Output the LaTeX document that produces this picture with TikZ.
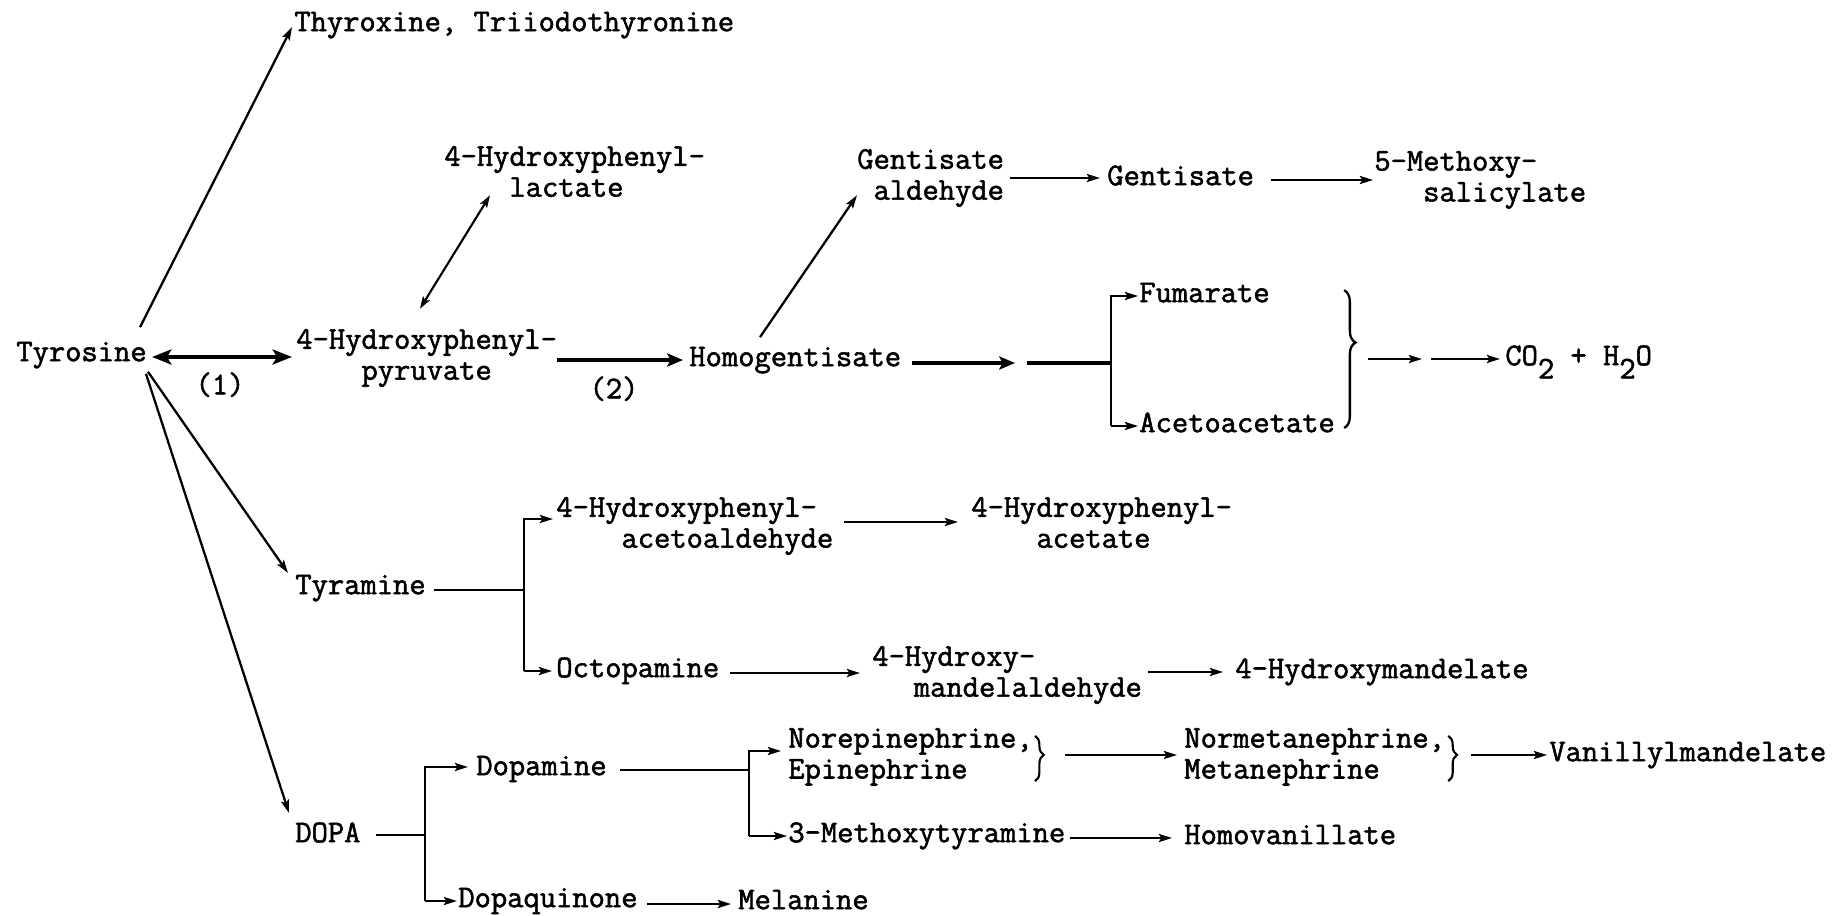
\documentclass[tikz,border=0pt]{standalone}
\usepackage{fontspec}
\setmainfont{Latin Modern Mono}[FakeBold=1.7]
\usetikzlibrary{calc,arrows.meta,decorations.pathreplacing}

\newcommand{\chemfont}{\fontsize{18}{17.6}\selectfont}
\newcommand{\low}[1]{\raisebox{-0.42em}{#1}}

\begin{document}
\begin{tikzpicture}[x=0.02cm,y=-0.02cm,
    every node/.style={inner sep=0pt,font=\chemfont,execute at begin node=\strut},
    cpd/.style={anchor=west,align=left},
    link/.style={line width=1.3pt},
    rxn/.style={line width=1.3pt,-{Stealth[length=7.5pt,width=4.6pt,inset=1.5pt]}},
    both/.style={line width=1.2pt,{Stealth[length=7pt,width=4.6pt,inset=1.5pt]}-{Stealth[length=7pt,width=4.6pt,inset=1.5pt]}},
    biglink/.style={line width=2.5pt},
    bigrxn/.style={line width=2.5pt,-{Stealth[length=9pt,width=7.5pt,inset=2pt]}},
    bigboth/.style={line width=2.5pt,{Stealth[length=11pt,width=8.5pt,inset=2.5pt]}-{Stealth[length=11pt,width=8.5pt,inset=2.5pt]}},
    brc/.style={decorate,decoration={brace,amplitude=6.5pt,aspect=0.38},line width=1.3pt},
    smallbrc/.style={decorate,decoration={brace,amplitude=5pt,aspect=0.42},line width=1.2pt}]
    \path[use as bounding box,fill=white] (0,0) rectangle (1833,916);

    % compounds
    \node[cpd] (tyr) at (16,355) {Tyrosine};
    \node[cpd] (thy) at (294,25) {Thyroxine, Triiodothyronine};
    \node[cpd] (lac) at (444,176) {4-Hydroxyphenyl-\\\strut\phantom{xxxx}lactate};
    \node[cpd] (hpp) at (296,359) {4-Hydroxyphenyl-\\\strut\phantom{xxxx}pyruvate};
    \node[cpd] (hom) at (689,360) {Homogentisate};
    \node[cpd] (gald) at (857,179) {Gentisate\\\strut\phantom{x}aldehyde};
    \node[cpd] (gen) at (1107,179) {Gentisate};
    \node[cpd] (mxs) at (1374,181) {5-Methoxy-\\\strut\phantom{xxx}salicylate};
    \node[cpd] (fum) at (1139,296) {Fumarate};
    \node[cpd] (aceto) at (1139,426) {Acetoacetate};
    \node[cpd] (co) at (1505,361) {CO\low{2} + H\low{2}O};
    \node[cpd] (tyra) at (295,588) {Tyramine};
    \node[cpd] (hpa) at (556,527) {4-Hydroxyphenyl-\\\strut\phantom{xxxx}acetoaldehyde};
    \node[cpd] (hpac) at (971,527) {4-Hydroxyphenyl-\\\strut\phantom{xxxx}acetate};
    \node[cpd] (octo) at (556,671) {Octopamine};
    \node[cpd] (hmald) at (872,676) {4-Hydroxy-\\\strut\hspace*{1.3125em}mandelaldehyde};
    \node[cpd] (hma) at (1235,672) {4-Hydroxymandelate};
    \node[cpd] (dopa) at (295,836) {DOPA};
    \node[cpd] (dopam) at (476,769) {Dopamine};
    \node[cpd] (dopaq) at (458,901) {Dopaquinone};
    \node[cpd] (mel) at (738,903) {Melanine};
    \node[cpd] (nor) at (788,758) {Norepinephrine,\\\strut Epinephrine};
    \node[cpd] (nmet) at (1184,758) {Normetanephrine,\\\strut Metanephrine};
    \node[cpd] (vma) at (1549,755) {Vanillylmandelate};
    \node[cpd] (mtyr) at (788,836) {3-Methoxytyramine};
    \node[cpd] (hva) at (1184,838) {Homovanillate};
    % step numbers
    \node (one) at (220,388) {(1)};
    \node (two) at (614,392) {(2)};

    % from tyrosine
    \draw[rxn] ($(tyr.north east)+(-7,-12)$) -- ($(thy.west)+(-2,2)$);
    \draw[bigboth] ($(tyr.east)+(5,2)$) -- ($(tyr.east -| hpp.west)+(-4,2)$);
    \draw[rxn] ($(tyr.south east)+(1,1)$) -- ($(tyra.west)+(-7,-15)$);
    \draw[rxn] ($(tyr.south east)+(-1,3)$) -- ($(dopa.west)+(-6,-23)$);

    % homogentisate pathway
    \draw[both] ($(hpp.north west)+(124,-20)$) -- ($(lac.south west)+(46,-11)$);
    \draw[bigrxn] (hpp.east |- hom.west) -- ($(hom.west)+(-6,0)$);
    \draw[rxn] ($(hom.north west)+(71,-7)$) -- ($(gald.south west)+(0,-14)$);
    \draw[rxn] ($(gald.east)+(6,-1)$) -- ($(gen.west)+(-7,-1)$);
    \draw[rxn] ($(gen.east)+(17,1)$) -- ($(gen.east -| mxs.west)+(-1,1)$);

    \coordinate (hgap) at (1021,363);
    \coordinate (hjoin) at (1111,363);
    \draw[bigrxn] ($(hom.east)+(11,3)$) -- ($(hgap)+(-6,0)$);
    \draw[biglink] ($(hgap)+(6,0)$) -- (hjoin);
    \draw[rxn] (hjoin |- aceto.west) |- ($(fum.west)+(-1,0)$);
    \draw[rxn] (hjoin |- aceto.west) -- ($(aceto.west)+(-1,0)$);
    \draw[brc] ($(aceto.east |- fum.north)+(9,10)$) -- ($(aceto.east)+(9,2)$);
    \coordinate (cogap) at (1426,359);
    \draw[rxn] ($(aceto.east |- cogap)+(33,0)$) -- ($(cogap)+(-4,0)$);
    \draw[rxn] ($(cogap)+(5,0)$) -- ($(cogap -| co.west)+(-5,0)$);

    % tyramine
    \coordinate (tjoin) at (524,590);
    \draw[link] ($(tyra.east)+(8,2)$) -- (tjoin);
    \draw[rxn] (tjoin |- octo.west) |- ($(hpa.west)+(-3,-8)$);
    \draw[rxn] (tjoin |- octo.west) -- ($(octo.west)+(-4,0)$);
    \draw[rxn] ($(hpa.east)+(10,-5)$) -- ($(hpac.west)+(-13,-5)$);
    \draw[rxn] ($(octo.east)+(10,2)$) -- ($(octo.east -| hmald.west)+(-12,2)$);
    \draw[rxn] ($(hma.west -| hmald.east)+(6,0)$) -- ($(hma.west)+(-12,0)$);

    % DOPA
    \coordinate (djoin) at (425,835);
    \draw[link] ($(dopa.east)+(15,-1)$) -- (djoin);
    \draw[rxn] (djoin |- dopaq.west) |- ($(dopam.west)+(-8,-2)$);
    \draw[rxn] (djoin |- dopaq.west) -- ($(dopaq.west)+(-1,0)$);
    \draw[rxn] ($(dopaq.east)+(9,3)$) -- ($(mel.west)+(-7,1)$);

    % dopamine
    \coordinate (pjoin) at (749,770);
    \draw[link] ($(dopam.east)+(13,1)$) -- (pjoin);
    \draw[rxn] (pjoin |- mtyr.west) |- ($(nor.west)+(-7,-7)$);
    \draw[rxn] (pjoin |- mtyr.west) -- ($(mtyr.west)+(-1,0)$);
    \draw[smallbrc] ($(nor.north east)+(2,8)$) -- ($(nor.south east)+(2,-7)$);
    \draw[rxn] ($(nor.east)+(32,-3)$) -- ($(nmet.west)+(-7,-3)$);
    \draw[smallbrc] ($(nmet.north east)+(3,8)$) -- ($(nmet.south east)+(3,-7)$);
    \draw[rxn] ($(nmet.east)+(26,-3)$) -- ($(vma.west)+(-2,0)$);
    \draw[rxn] ($(mtyr.east)+(4,2)$) -- ($(hva.west)+(-12,0)$);
\end{tikzpicture}
\end{document}
